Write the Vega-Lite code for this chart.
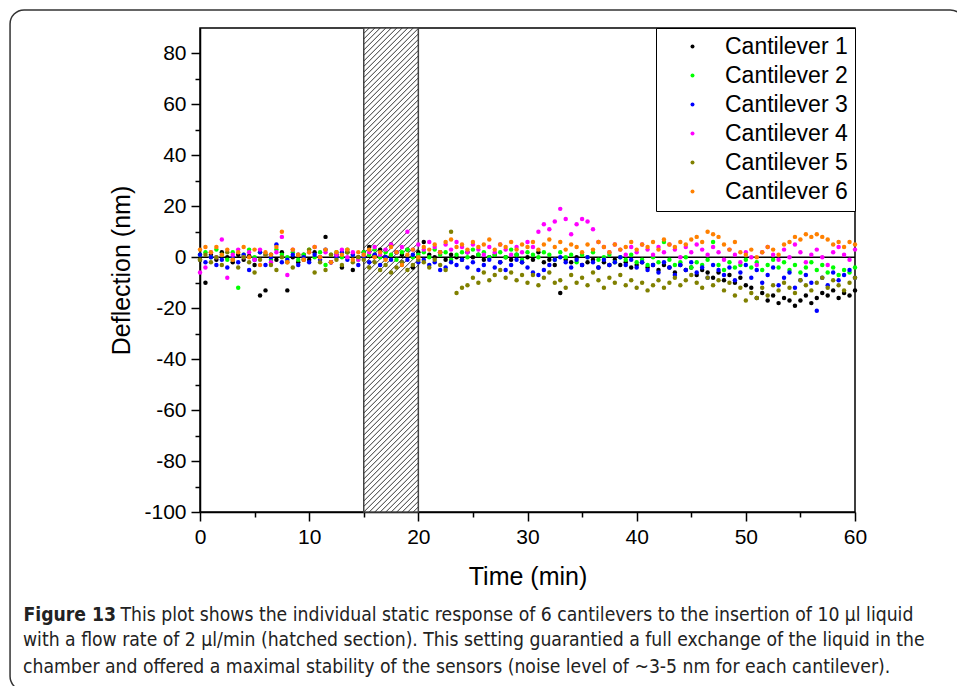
{
"$schema": "https://vega.github.io/schema/vega-lite/v6.json",
"width": 655, "height": 484,
"autosize": {"type": "none"},
"padding": {"left": 200, "top": 28, "right": 102, "bottom": 174},
"background": "white",
"config": {
  "view": {"stroke": "black", "strokeWidth": 1.5},
  "axis": {"labelFont": "Liberation Sans", "labelFontSize": 21, "labelColor": "black", "titleFont": "Liberation Sans", "titleFontSize": 25, "titleFontWeight": "normal", "titleColor": "black", "domainColor": "black", "domainWidth": 1.5, "tickColor": "black", "tickWidth": 1.5, "tickSize": 9, "labelPadding": 5, "grid": false, "labelFlush": false},
  "legend": {"orient": "top-right", "offset": 0, "padding": 7, "strokeColor": "black", "fillColor": "white", "labelFont": "Liberation Sans", "labelFontSize": 23, "labelColor": "black", "symbolSize": 16, "symbolOffset": 18, "labelOffset": 21, "rowPadding": 5, "symbolType": "circle", "symbolStrokeWidth": 0}
},
"title": {"text": ["with a flow rate of 2 µl/min (hatched section). This setting guarantied a full exchange of the liquid in the", "chamber and offered a maximal stability of the sensors (noise level of ~3-5 nm for each cantilever)."], "orient": "bottom", "anchor": "start", "frame": "group", "dx": -177, "offset": -60, "font": "DejaVu Sans Condensed, DejaVu Sans", "fontSize": 19.2, "fontWeight": "normal", "color": "#222", "lineHeight": 27},
"resolve": {"axis": {"x": "independent", "y": "independent"}},
"layer": [
{"data": {"values": [{}]},
 "mark": {"type": "rect", "filled": false, "stroke": "#333", "strokeWidth": 1.5, "cornerRadius": 14, "clip": false},
 "encoding": {"x": {"datum": -17.4, "type": "quantitative", "scale": {"domain": [0, 60], "nice": false, "zero": false}, "axis": null}, "x2": {"datum": 70}, "y": {"datum": 97.07, "type": "quantitative", "scale": {"domain": [-100, 90], "nice": false, "zero": false}, "axis": null}, "y2": {"datum": -170}}},
{"data": {"values": [{}]},
 "mark": {"type": "rect", "fill": "white", "stroke": "#444", "strokeWidth": 1.5},
 "encoding": {"x": {"datum": 15, "type": "quantitative", "scale": {"domain": [0, 60], "nice": false, "zero": false}, "axis": null}, "x2": {"datum": 20}, "y": {"datum": 90, "type": "quantitative", "scale": {"domain": [-100, 90], "nice": false, "zero": false}, "axis": null}, "y2": {"datum": -100}}},
{"data": {"values": [{}]},
 "mark": {"type": "point", "shape": "M0,5.5l5.5,-5.5M0,11l11,-11M0,16.5l16.5,-16.5M0,22l22,-22M0,27.5l27.5,-27.5M0,33l33,-33M0,38.5l38.5,-38.5M0,44l44,-44M0,49.5l49.5,-49.5M0,55l54.6,-54.6M0,60.5l54.6,-54.6M0,66l54.6,-54.6M0,71.5l54.6,-54.6M0,77l54.6,-54.6M0,82.5l54.6,-54.6M0,88l54.6,-54.6M0,93.5l54.6,-54.6M0,99l54.6,-54.6M0,104.5l54.6,-54.6M0,110l54.6,-54.6M0,115.5l54.6,-54.6M0,121l54.6,-54.6M0,126.5l54.6,-54.6M0,132l54.6,-54.6M0,137.5l54.6,-54.6M0,143l54.6,-54.6M0,148.5l54.6,-54.6M0,154l54.6,-54.6M0,159.5l54.6,-54.6M0,165l54.6,-54.6M0,170.5l54.6,-54.6M0,176l54.6,-54.6M0,181.5l54.6,-54.6M0,187l54.6,-54.6M0,192.5l54.6,-54.6M0,198l54.6,-54.6M0,203.5l54.6,-54.6M0,209l54.6,-54.6M0,214.5l54.6,-54.6M0,220l54.6,-54.6M0,225.5l54.6,-54.6M0,231l54.6,-54.6M0,236.5l54.6,-54.6M0,242l54.6,-54.6M0,247.5l54.6,-54.6M0,253l54.6,-54.6M0,258.5l54.6,-54.6M0,264l54.6,-54.6M0,269.5l54.6,-54.6M0,275l54.6,-54.6M0,280.5l54.6,-54.6M0,286l54.6,-54.6M0,291.5l54.6,-54.6M0,297l54.6,-54.6M0,302.5l54.6,-54.6M0,308l54.6,-54.6M0,313.5l54.6,-54.6M0,319l54.6,-54.6M0,324.5l54.6,-54.6M0,330l54.6,-54.6M0,335.5l54.6,-54.6M0,341l54.6,-54.6M0,346.5l54.6,-54.6M0,352l54.6,-54.6M0,357.5l54.6,-54.6M0,363l54.6,-54.6M0,368.5l54.6,-54.6M0,374l54.6,-54.6M0,379.5l54.6,-54.6M0,385l54.6,-54.6M0,390.5l54.6,-54.6M0,396l54.6,-54.6M0,401.5l54.6,-54.6M0,407l54.6,-54.6M0,412.5l54.6,-54.6M0,418l54.6,-54.6M0,423.5l54.6,-54.6M0,429l54.6,-54.6M0,434.5l54.6,-54.6M0,440l54.6,-54.6M0,445.5l54.6,-54.6M0,451l54.6,-54.6M0,456.5l54.6,-54.6M0,462l54.6,-54.6M0,467.5l54.6,-54.6M0,473l54.6,-54.6M0,478.5l54.6,-54.6M0,484l54.6,-54.6M5.5,484l49.1,-49.1M11,484l43.6,-43.6M16.5,484l38.1,-38.1M22,484l32.6,-32.6M27.5,484l27.1,-27.1M33,484l21.6,-21.6M38.5,484l16.1,-16.1M44,484l10.6,-10.6M49.5,484l5.1,-5.1", "size": 4, "filled": false, "color": "#333", "strokeWidth": 1, "opacity": 1},
 "encoding": {"x": {"datum": 15, "type": "quantitative", "scale": {"domain": [0, 60], "nice": false, "zero": false}, "axis": null}, "y": {"datum": 90, "type": "quantitative", "scale": {"domain": [-100, 90], "nice": false, "zero": false}, "axis": null}}},
{"data": {"values": [{}]},
 "mark": {"type": "rule", "color": "black", "strokeWidth": 1.5},
 "encoding": {"x": {"datum": 0, "type": "quantitative", "scale": {"domain": [0, 60], "nice": false, "zero": false}, "axis": {"orient": "bottom", "values": [5, 15, 25, 35, 45, 55], "labels": false, "domain": false, "tickSize": 5, "title": "This plot shows the individual static response of 6 cantilevers to the insertion of 10 µl liquid", "titleX": -80, "titleY": 108, "titleAlign": "left", "titleAnchor": "start", "titleBaseline": "alphabetic", "titleFont": "DejaVu Sans Condensed, DejaVu Sans", "titleFontSize": 19.2, "titleFontWeight": "normal", "titleColor": "#222"}}, "x2": {"datum": 60}, "y": {"datum": 0, "type": "quantitative", "scale": {"domain": [-100, 90], "nice": false, "zero": false}, "axis": {"orient": "left", "values": [-90, -70, -50, -30, -10, 10, 30, 50, 70], "labels": false, "domain": false, "tickSize": 5, "title": "Figure 13", "titleAngle": 0, "titleX": -177, "titleY": 592, "titleAlign": "left", "titleAnchor": "start", "titleBaseline": "alphabetic", "titleFont": "DejaVu Sans Condensed, DejaVu Sans", "titleFontSize": 19.2, "titleFontWeight": "bold", "titleColor": "#222"}}}},
{"data": {"values": [
{"t":0,"c":1,"d":-1},{"t":0.5,"c":1,"d":-10},{"t":1,"c":1,"d":1},{"t":1.5,"c":1,"d":-1},{"t":2,"c":1,"d":2},{"t":2.5,"c":1,"d":0},{"t":3,"c":1,"d":-2},{"t":3.5,"c":1,"d":1},{"t":4,"c":1,"d":-1},{"t":4.5,"c":1,"d":0.5},{"t":5,"c":1,"d":-3},{"t":5.5,"c":1,"d":-15},{"t":6,"c":1,"d":-13},{"t":6.5,"c":1,"d":1},{"t":7,"c":1,"d":-1},{"t":7.5,"c":1,"d":2},{"t":8,"c":1,"d":-13},{"t":8.5,"c":1,"d":0},{"t":9,"c":1,"d":-2},{"t":9.5,"c":1,"d":1},{"t":10,"c":1,"d":-1},{"t":10.5,"c":1,"d":2},{"t":11,"c":1,"d":0},{"t":11.5,"c":1,"d":8},{"t":12,"c":1,"d":-2},{"t":12.5,"c":1,"d":1},{"t":13,"c":1,"d":-4},{"t":13.5,"c":1,"d":2},{"t":14,"c":1,"d":-5},{"t":14.5,"c":1,"d":0},{"t":15,"c":1,"d":2},{"t":15.5,"c":1,"d":4},{"t":16,"c":1,"d":1},{"t":16.5,"c":1,"d":3},{"t":17,"c":1,"d":0},{"t":17.5,"c":1,"d":5},{"t":18,"c":1,"d":2},{"t":18.5,"c":1,"d":1},{"t":19,"c":1,"d":3},{"t":19.5,"c":1,"d":-4},{"t":20,"c":1,"d":2},{"t":20.5,"c":1,"d":6},{"t":21,"c":1,"d":1},{"t":21.5,"c":1,"d":0},{"t":22,"c":1,"d":2},{"t":22.5,"c":1,"d":-1},{"t":23,"c":1,"d":1},{"t":23.5,"c":1,"d":0},{"t":24,"c":1,"d":-1},{"t":24.5,"c":1,"d":2},{"t":25,"c":1,"d":0},{"t":25.5,"c":1,"d":1},{"t":26,"c":1,"d":-1},{"t":26.5,"c":1,"d":0},{"t":27,"c":1,"d":1},{"t":27.5,"c":1,"d":-2},{"t":28,"c":1,"d":0},{"t":28.5,"c":1,"d":-1},{"t":29,"c":1,"d":1},{"t":29.5,"c":1,"d":-2},{"t":30,"c":1,"d":0},{"t":30.5,"c":1,"d":-1},{"t":31,"c":1,"d":2},{"t":31.5,"c":1,"d":-2},{"t":32,"c":1,"d":-1},{"t":32.5,"c":1,"d":-3},{"t":33,"c":1,"d":-14},{"t":33.5,"c":1,"d":-1},{"t":34,"c":1,"d":-2},{"t":34.5,"c":1,"d":0},{"t":35,"c":1,"d":-3},{"t":35.5,"c":1,"d":-2},{"t":36,"c":1,"d":-1},{"t":36.5,"c":1,"d":-4},{"t":37,"c":1,"d":-2},{"t":37.5,"c":1,"d":-3},{"t":38,"c":1,"d":-1},{"t":38.5,"c":1,"d":-3},{"t":39,"c":1,"d":-2},{"t":39.5,"c":1,"d":-4},{"t":40,"c":1,"d":-3},{"t":40.5,"c":1,"d":-2},{"t":41,"c":1,"d":-4},{"t":41.5,"c":1,"d":-3},{"t":42,"c":1,"d":-5},{"t":42.5,"c":1,"d":-3},{"t":43,"c":1,"d":-4},{"t":43.5,"c":1,"d":-6},{"t":44,"c":1,"d":-3},{"t":44.5,"c":1,"d":-5},{"t":45,"c":1,"d":-4},{"t":45.5,"c":1,"d":-7},{"t":46,"c":1,"d":-5},{"t":46.5,"c":1,"d":-6},{"t":47,"c":1,"d":-8},{"t":47.5,"c":1,"d":-6},{"t":48,"c":1,"d":-9},{"t":48.5,"c":1,"d":-7},{"t":49,"c":1,"d":-10},{"t":49.5,"c":1,"d":-8},{"t":50,"c":1,"d":-11},{"t":50.5,"c":1,"d":-12},{"t":51,"c":1,"d":-16},{"t":51.5,"c":1,"d":-14},{"t":52,"c":1,"d":-17},{"t":52.5,"c":1,"d":-15},{"t":53,"c":1,"d":-18},{"t":53.5,"c":1,"d":-16},{"t":54,"c":1,"d":-17},{"t":54.5,"c":1,"d":-19},{"t":55,"c":1,"d":-17},{"t":55.5,"c":1,"d":-15},{"t":56,"c":1,"d":-18},{"t":56.5,"c":1,"d":-16},{"t":57,"c":1,"d":-14},{"t":57.5,"c":1,"d":-15},{"t":58,"c":1,"d":-13},{"t":58.5,"c":1,"d":-16},{"t":59,"c":1,"d":-14},{"t":59.5,"c":1,"d":-15},{"t":60,"c":1,"d":-13},
{"t":0,"c":2,"d":1},{"t":0.5,"c":2,"d":2},{"t":1,"c":2,"d":0},{"t":1.5,"c":2,"d":3},{"t":2,"c":2,"d":1},{"t":2.5,"c":2,"d":-1},{"t":3,"c":2,"d":2},{"t":3.5,"c":2,"d":-12},{"t":4,"c":2,"d":1},{"t":4.5,"c":2,"d":3},{"t":5,"c":2,"d":0},{"t":5.5,"c":2,"d":2},{"t":6,"c":2,"d":1},{"t":6.5,"c":2,"d":-1},{"t":7,"c":2,"d":3},{"t":7.5,"c":2,"d":1},{"t":8,"c":2,"d":0},{"t":8.5,"c":2,"d":2},{"t":9,"c":2,"d":-1},{"t":9.5,"c":2,"d":1},{"t":10,"c":2,"d":3},{"t":10.5,"c":2,"d":0},{"t":11,"c":2,"d":2},{"t":11.5,"c":2,"d":-3},{"t":12,"c":2,"d":1},{"t":12.5,"c":2,"d":2},{"t":13,"c":2,"d":0},{"t":13.5,"c":2,"d":3},{"t":14,"c":2,"d":1},{"t":14.5,"c":2,"d":-1},{"t":15,"c":2,"d":2},{"t":15.5,"c":2,"d":1},{"t":16,"c":2,"d":3},{"t":16.5,"c":2,"d":0},{"t":17,"c":2,"d":2},{"t":17.5,"c":2,"d":1},{"t":18,"c":2,"d":-1},{"t":18.5,"c":2,"d":2},{"t":19,"c":2,"d":3},{"t":19.5,"c":2,"d":0},{"t":20,"c":2,"d":1},{"t":20.5,"c":2,"d":2},{"t":21,"c":2,"d":0},{"t":21.5,"c":2,"d":3},{"t":22,"c":2,"d":1},{"t":22.5,"c":2,"d":2},{"t":23,"c":2,"d":-1},{"t":23.5,"c":2,"d":1},{"t":24,"c":2,"d":2},{"t":24.5,"c":2,"d":0},{"t":25,"c":2,"d":3},{"t":25.5,"c":2,"d":1},{"t":26,"c":2,"d":2},{"t":26.5,"c":2,"d":0},{"t":27,"c":2,"d":1},{"t":27.5,"c":2,"d":2},{"t":28,"c":2,"d":0},{"t":28.5,"c":2,"d":3},{"t":29,"c":2,"d":1},{"t":29.5,"c":2,"d":-1},{"t":30,"c":2,"d":2},{"t":30.5,"c":2,"d":1},{"t":31,"c":2,"d":0},{"t":31.5,"c":2,"d":2},{"t":32,"c":2,"d":1},{"t":32.5,"c":2,"d":-1},{"t":33,"c":2,"d":2},{"t":33.5,"c":2,"d":0},{"t":34,"c":2,"d":1},{"t":34.5,"c":2,"d":-2},{"t":35,"c":2,"d":1},{"t":35.5,"c":2,"d":0},{"t":36,"c":2,"d":2},{"t":36.5,"c":2,"d":-1},{"t":37,"c":2,"d":0},{"t":37.5,"c":2,"d":1},{"t":38,"c":2,"d":-2},{"t":38.5,"c":2,"d":0},{"t":39,"c":2,"d":-1},{"t":39.5,"c":2,"d":1},{"t":40,"c":2,"d":-2},{"t":40.5,"c":2,"d":-1},{"t":41,"c":2,"d":-3},{"t":41.5,"c":2,"d":0},{"t":42,"c":2,"d":-2},{"t":42.5,"c":2,"d":6},{"t":43,"c":2,"d":-1},{"t":43.5,"c":2,"d":-3},{"t":44,"c":2,"d":-2},{"t":44.5,"c":2,"d":0},{"t":45,"c":2,"d":-4},{"t":45.5,"c":2,"d":-2},{"t":46,"c":2,"d":-3},{"t":46.5,"c":2,"d":-1},{"t":47,"c":2,"d":6},{"t":47.5,"c":2,"d":-3},{"t":48,"c":2,"d":-5},{"t":48.5,"c":2,"d":-2},{"t":49,"c":2,"d":-4},{"t":49.5,"c":2,"d":-3},{"t":50,"c":2,"d":-1},{"t":50.5,"c":2,"d":-4},{"t":51,"c":2,"d":-2},{"t":51.5,"c":2,"d":-5},{"t":52,"c":2,"d":-3},{"t":52.5,"c":2,"d":-1},{"t":53,"c":2,"d":-4},{"t":53.5,"c":2,"d":-2},{"t":54,"c":2,"d":-5},{"t":54.5,"c":2,"d":-3},{"t":55,"c":2,"d":-6},{"t":55.5,"c":2,"d":-4},{"t":56,"c":2,"d":-2},{"t":56.5,"c":2,"d":-5},{"t":57,"c":2,"d":-3},{"t":57.5,"c":2,"d":-6},{"t":58,"c":2,"d":-4},{"t":58.5,"c":2,"d":-7},{"t":59,"c":2,"d":-5},{"t":59.5,"c":2,"d":-6},{"t":60,"c":2,"d":-4},
{"t":0,"c":3,"d":1},{"t":0.5,"c":3,"d":-2},{"t":1,"c":3,"d":0},{"t":1.5,"c":3,"d":-3},{"t":2,"c":3,"d":-1},{"t":2.5,"c":3,"d":-4},{"t":3,"c":3,"d":0},{"t":3.5,"c":3,"d":-2},{"t":4,"c":3,"d":1},{"t":4.5,"c":3,"d":-5},{"t":5,"c":3,"d":-1},{"t":5.5,"c":3,"d":2},{"t":6,"c":3,"d":-3},{"t":6.5,"c":3,"d":0},{"t":7,"c":3,"d":5},{"t":7.5,"c":3,"d":-2},{"t":8,"c":3,"d":-1},{"t":8.5,"c":3,"d":1},{"t":9,"c":3,"d":-3},{"t":9.5,"c":3,"d":0},{"t":10,"c":3,"d":-2},{"t":10.5,"c":3,"d":1},{"t":11,"c":3,"d":-1},{"t":11.5,"c":3,"d":3},{"t":12,"c":3,"d":-2},{"t":12.5,"c":3,"d":0},{"t":13,"c":3,"d":2},{"t":13.5,"c":3,"d":-1},{"t":14,"c":3,"d":1},{"t":14.5,"c":3,"d":-3},{"t":15,"c":3,"d":0},{"t":15.5,"c":3,"d":-2},{"t":16,"c":3,"d":1},{"t":16.5,"c":3,"d":-3},{"t":17,"c":3,"d":0},{"t":17.5,"c":3,"d":-1},{"t":18,"c":3,"d":2},{"t":18.5,"c":3,"d":-2},{"t":19,"c":3,"d":-1},{"t":19.5,"c":3,"d":1},{"t":20,"c":3,"d":-2},{"t":20.5,"c":3,"d":-1},{"t":21,"c":3,"d":-3},{"t":21.5,"c":3,"d":-2},{"t":22,"c":3,"d":-5},{"t":22.5,"c":3,"d":-4},{"t":23,"c":3,"d":-2},{"t":23.5,"c":3,"d":-3},{"t":24,"c":3,"d":-1},{"t":24.5,"c":3,"d":-4},{"t":25,"c":3,"d":-2},{"t":25.5,"c":3,"d":-5},{"t":26,"c":3,"d":-3},{"t":26.5,"c":3,"d":-1},{"t":27,"c":3,"d":-4},{"t":27.5,"c":3,"d":-2},{"t":28,"c":3,"d":-5},{"t":28.5,"c":3,"d":-3},{"t":29,"c":3,"d":-1},{"t":29.5,"c":3,"d":-2},{"t":30,"c":3,"d":-4},{"t":30.5,"c":3,"d":-6},{"t":31,"c":3,"d":-7},{"t":31.5,"c":3,"d":-5},{"t":32,"c":3,"d":-3},{"t":32.5,"c":3,"d":-1},{"t":33,"c":3,"d":0},{"t":33.5,"c":3,"d":-2},{"t":34,"c":3,"d":-4},{"t":34.5,"c":3,"d":-1},{"t":35,"c":3,"d":-3},{"t":35.5,"c":3,"d":0},{"t":36,"c":3,"d":-2},{"t":36.5,"c":3,"d":-4},{"t":37,"c":3,"d":-1},{"t":37.5,"c":3,"d":-3},{"t":38,"c":3,"d":-2},{"t":38.5,"c":3,"d":0},{"t":39,"c":3,"d":-3},{"t":39.5,"c":3,"d":-1},{"t":40,"c":3,"d":-4},{"t":40.5,"c":3,"d":-2},{"t":41,"c":3,"d":-5},{"t":41.5,"c":3,"d":-3},{"t":42,"c":3,"d":-6},{"t":42.5,"c":3,"d":-2},{"t":43,"c":3,"d":-4},{"t":43.5,"c":3,"d":-7},{"t":44,"c":3,"d":-3},{"t":44.5,"c":3,"d":-5},{"t":45,"c":3,"d":-2},{"t":45.5,"c":3,"d":-6},{"t":46,"c":3,"d":-4},{"t":46.5,"c":3,"d":-8},{"t":47,"c":3,"d":-3},{"t":47.5,"c":3,"d":-5},{"t":48,"c":3,"d":-7},{"t":48.5,"c":3,"d":-4},{"t":49,"c":3,"d":-9},{"t":49.5,"c":3,"d":-6},{"t":50,"c":3,"d":-3},{"t":50.5,"c":3,"d":-8},{"t":51,"c":3,"d":-5},{"t":51.5,"c":3,"d":-10},{"t":52,"c":3,"d":-7},{"t":52.5,"c":3,"d":-4},{"t":53,"c":3,"d":-11},{"t":53.5,"c":3,"d":-8},{"t":54,"c":3,"d":-6},{"t":54.5,"c":3,"d":-12},{"t":55,"c":3,"d":-9},{"t":55.5,"c":3,"d":-7},{"t":56,"c":3,"d":-10},{"t":56.5,"c":3,"d":-21},{"t":57,"c":3,"d":-8},{"t":57.5,"c":3,"d":-11},{"t":58,"c":3,"d":-6},{"t":58.5,"c":3,"d":-9},{"t":59,"c":3,"d":-7},{"t":59.5,"c":3,"d":-5},{"t":60,"c":3,"d":-8},
{"t":0,"c":4,"d":-6},{"t":0.5,"c":4,"d":-4},{"t":1,"c":4,"d":2},{"t":1.5,"c":4,"d":0},{"t":2,"c":4,"d":7},{"t":2.5,"c":4,"d":-8},{"t":3,"c":4,"d":1},{"t":3.5,"c":4,"d":3},{"t":4,"c":4,"d":0},{"t":4.5,"c":4,"d":2},{"t":5,"c":4,"d":-1},{"t":5.5,"c":4,"d":3},{"t":6,"c":4,"d":1},{"t":6.5,"c":4,"d":-2},{"t":7,"c":4,"d":2},{"t":7.5,"c":4,"d":8},{"t":8,"c":4,"d":-7},{"t":8.5,"c":4,"d":3},{"t":9,"c":4,"d":1},{"t":9.5,"c":4,"d":-1},{"t":10,"c":4,"d":2},{"t":10.5,"c":4,"d":4},{"t":11,"c":4,"d":0},{"t":11.5,"c":4,"d":2},{"t":12,"c":4,"d":-2},{"t":12.5,"c":4,"d":1},{"t":13,"c":4,"d":3},{"t":13.5,"c":4,"d":0},{"t":14,"c":4,"d":2},{"t":14.5,"c":4,"d":-1},{"t":15,"c":4,"d":1},{"t":15.5,"c":4,"d":2},{"t":16,"c":4,"d":4},{"t":16.5,"c":4,"d":1},{"t":17,"c":4,"d":3},{"t":17.5,"c":4,"d":5},{"t":18,"c":4,"d":2},{"t":18.5,"c":4,"d":4},{"t":19,"c":4,"d":10},{"t":19.5,"c":4,"d":3},{"t":20,"c":4,"d":5},{"t":20.5,"c":4,"d":3},{"t":21,"c":4,"d":6},{"t":21.5,"c":4,"d":4},{"t":22,"c":4,"d":2},{"t":22.5,"c":4,"d":5},{"t":23,"c":4,"d":3},{"t":23.5,"c":4,"d":6},{"t":24,"c":4,"d":4},{"t":24.5,"c":4,"d":2},{"t":25,"c":4,"d":5},{"t":25.5,"c":4,"d":3},{"t":26,"c":4,"d":1},{"t":26.5,"c":4,"d":4},{"t":27,"c":4,"d":2},{"t":27.5,"c":4,"d":5},{"t":28,"c":4,"d":3},{"t":28.5,"c":4,"d":1},{"t":29,"c":4,"d":4},{"t":29.5,"c":4,"d":2},{"t":30,"c":4,"d":6},{"t":30.5,"c":4,"d":4},{"t":31,"c":4,"d":10},{"t":31.5,"c":4,"d":13},{"t":32,"c":4,"d":11},{"t":32.5,"c":4,"d":14},{"t":33,"c":4,"d":19},{"t":33.5,"c":4,"d":15},{"t":34,"c":4,"d":9},{"t":34.5,"c":4,"d":13},{"t":35,"c":4,"d":15},{"t":35.5,"c":4,"d":14},{"t":36,"c":4,"d":11},{"t":36.5,"c":4,"d":6},{"t":37,"c":4,"d":4},{"t":37.5,"c":4,"d":2},{"t":38,"c":4,"d":5},{"t":38.5,"c":4,"d":3},{"t":39,"c":4,"d":1},{"t":39.5,"c":4,"d":4},{"t":40,"c":4,"d":2},{"t":40.5,"c":4,"d":5},{"t":41,"c":4,"d":3},{"t":41.5,"c":4,"d":1},{"t":42,"c":4,"d":4},{"t":42.5,"c":4,"d":2},{"t":43,"c":4,"d":5},{"t":43.5,"c":4,"d":3},{"t":44,"c":4,"d":0},{"t":44.5,"c":4,"d":4},{"t":45,"c":4,"d":2},{"t":45.5,"c":4,"d":5},{"t":46,"c":4,"d":3},{"t":46.5,"c":4,"d":1},{"t":47,"c":4,"d":4},{"t":47.5,"c":4,"d":2},{"t":48,"c":4,"d":-1},{"t":48.5,"c":4,"d":3},{"t":49,"c":4,"d":1},{"t":49.5,"c":4,"d":-2},{"t":50,"c":4,"d":2},{"t":50.5,"c":4,"d":0},{"t":51,"c":4,"d":-3},{"t":51.5,"c":4,"d":2},{"t":52,"c":4,"d":4},{"t":52.5,"c":4,"d":1},{"t":53,"c":4,"d":-1},{"t":53.5,"c":4,"d":3},{"t":54,"c":4,"d":0},{"t":54.5,"c":4,"d":5},{"t":55,"c":4,"d":2},{"t":55.5,"c":4,"d":-2},{"t":56,"c":4,"d":1},{"t":56.5,"c":4,"d":3},{"t":57,"c":4,"d":0},{"t":57.5,"c":4,"d":-3},{"t":58,"c":4,"d":2},{"t":58.5,"c":4,"d":4},{"t":59,"c":4,"d":1},{"t":59.5,"c":4,"d":-1},{"t":60,"c":4,"d":3},
{"t":0,"c":5,"d":-1},{"t":0.5,"c":5,"d":1},{"t":1,"c":5,"d":-2},{"t":1.5,"c":5,"d":0},{"t":2,"c":5,"d":-3},{"t":2.5,"c":5,"d":2},{"t":3,"c":5,"d":-1},{"t":3.5,"c":5,"d":-4},{"t":4,"c":5,"d":0},{"t":4.5,"c":5,"d":-2},{"t":5,"c":5,"d":-6},{"t":5.5,"c":5,"d":-1},{"t":6,"c":5,"d":1},{"t":6.5,"c":5,"d":-3},{"t":7,"c":5,"d":-5},{"t":7.5,"c":5,"d":0},{"t":8,"c":5,"d":-2},{"t":8.5,"c":5,"d":-4},{"t":9,"c":5,"d":1},{"t":9.5,"c":5,"d":-1},{"t":10,"c":5,"d":3},{"t":10.5,"c":5,"d":-6},{"t":11,"c":5,"d":-2},{"t":11.5,"c":5,"d":-5},{"t":12,"c":5,"d":1},{"t":12.5,"c":5,"d":-1},{"t":13,"c":5,"d":-3},{"t":13.5,"c":5,"d":2},{"t":14,"c":5,"d":-2},{"t":14.5,"c":5,"d":0},{"t":15,"c":5,"d":-1},{"t":15.5,"c":5,"d":-4},{"t":16,"c":5,"d":-2},{"t":16.5,"c":5,"d":-5},{"t":17,"c":5,"d":-3},{"t":17.5,"c":5,"d":-6},{"t":18,"c":5,"d":-4},{"t":18.5,"c":5,"d":-2},{"t":19,"c":5,"d":-5},{"t":19.5,"c":5,"d":-3},{"t":20,"c":5,"d":-1},{"t":20.5,"c":5,"d":-2},{"t":21,"c":5,"d":-4},{"t":21.5,"c":5,"d":-1},{"t":22,"c":5,"d":-3},{"t":22.5,"c":5,"d":-5},{"t":23,"c":5,"d":10},{"t":23.5,"c":5,"d":-14},{"t":24,"c":5,"d":-12},{"t":24.5,"c":5,"d":-11},{"t":25,"c":5,"d":-8},{"t":25.5,"c":5,"d":-10},{"t":26,"c":5,"d":-6},{"t":26.5,"c":5,"d":-9},{"t":27,"c":5,"d":-7},{"t":27.5,"c":5,"d":-5},{"t":28,"c":5,"d":-8},{"t":28.5,"c":5,"d":-6},{"t":29,"c":5,"d":-9},{"t":29.5,"c":5,"d":-7},{"t":30,"c":5,"d":-10},{"t":30.5,"c":5,"d":-7},{"t":31,"c":5,"d":-11},{"t":31.5,"c":5,"d":-8},{"t":32,"c":5,"d":-6},{"t":32.5,"c":5,"d":-10},{"t":33,"c":5,"d":-9},{"t":33.5,"c":5,"d":-12},{"t":34,"c":5,"d":-7},{"t":34.5,"c":5,"d":-10},{"t":35,"c":5,"d":-8},{"t":35.5,"c":5,"d":-11},{"t":36,"c":5,"d":-6},{"t":36.5,"c":5,"d":-9},{"t":37,"c":5,"d":-12},{"t":37.5,"c":5,"d":-8},{"t":38,"c":5,"d":-10},{"t":38.5,"c":5,"d":-7},{"t":39,"c":5,"d":-11},{"t":39.5,"c":5,"d":-9},{"t":40,"c":5,"d":-12},{"t":40.5,"c":5,"d":-10},{"t":41,"c":5,"d":-13},{"t":41.5,"c":5,"d":-11},{"t":42,"c":5,"d":-9},{"t":42.5,"c":5,"d":-12},{"t":43,"c":5,"d":-10},{"t":43.5,"c":5,"d":-8},{"t":44,"c":5,"d":-11},{"t":44.5,"c":5,"d":-9},{"t":45,"c":5,"d":-7},{"t":45.5,"c":5,"d":-10},{"t":46,"c":5,"d":-12},{"t":46.5,"c":5,"d":-8},{"t":47,"c":5,"d":-11},{"t":47.5,"c":5,"d":-9},{"t":48,"c":5,"d":-13},{"t":48.5,"c":5,"d":-10},{"t":49,"c":5,"d":-15},{"t":49.5,"c":5,"d":-12},{"t":50,"c":5,"d":-17},{"t":50.5,"c":5,"d":-14},{"t":51,"c":5,"d":-16},{"t":51.5,"c":5,"d":-12},{"t":52,"c":5,"d":-15},{"t":52.5,"c":5,"d":-11},{"t":53,"c":5,"d":-13},{"t":53.5,"c":5,"d":-10},{"t":54,"c":5,"d":-12},{"t":54.5,"c":5,"d":-14},{"t":55,"c":5,"d":-9},{"t":55.5,"c":5,"d":-11},{"t":56,"c":5,"d":-13},{"t":56.5,"c":5,"d":-10},{"t":57,"c":5,"d":-8},{"t":57.5,"c":5,"d":-12},{"t":58,"c":5,"d":-9},{"t":58.5,"c":5,"d":-11},{"t":59,"c":5,"d":-13},{"t":59.5,"c":5,"d":-10},{"t":60,"c":5,"d":-8},
{"t":0,"c":6,"d":3},{"t":0.5,"c":6,"d":4},{"t":1,"c":6,"d":2},{"t":1.5,"c":6,"d":4},{"t":2,"c":6,"d":1},{"t":2.5,"c":6,"d":3},{"t":3,"c":6,"d":-1},{"t":3.5,"c":6,"d":2},{"t":4,"c":6,"d":4},{"t":4.5,"c":6,"d":0},{"t":5,"c":6,"d":3},{"t":5.5,"c":6,"d":-3},{"t":6,"c":6,"d":2},{"t":6.5,"c":6,"d":1},{"t":7,"c":6,"d":4},{"t":7.5,"c":6,"d":10},{"t":8,"c":6,"d":-2},{"t":8.5,"c":6,"d":3},{"t":9,"c":6,"d":1},{"t":9.5,"c":6,"d":-1},{"t":10,"c":6,"d":2},{"t":10.5,"c":6,"d":4},{"t":11,"c":6,"d":0},{"t":11.5,"c":6,"d":3},{"t":12,"c":6,"d":-2},{"t":12.5,"c":6,"d":2},{"t":13,"c":6,"d":1},{"t":13.5,"c":6,"d":3},{"t":14,"c":6,"d":-1},{"t":14.5,"c":6,"d":2},{"t":15,"c":6,"d":1},{"t":15.5,"c":6,"d":3},{"t":16,"c":6,"d":0},{"t":16.5,"c":6,"d":2},{"t":17,"c":6,"d":-1},{"t":17.5,"c":6,"d":4},{"t":18,"c":6,"d":2},{"t":18.5,"c":6,"d":-3},{"t":19,"c":6,"d":1},{"t":19.5,"c":6,"d":3},{"t":20,"c":6,"d":0},{"t":20.5,"c":6,"d":4},{"t":21,"c":6,"d":3},{"t":21.5,"c":6,"d":5},{"t":22,"c":6,"d":2},{"t":22.5,"c":6,"d":6},{"t":23,"c":6,"d":7},{"t":23.5,"c":6,"d":4},{"t":24,"c":6,"d":5},{"t":24.5,"c":6,"d":3},{"t":25,"c":6,"d":6},{"t":25.5,"c":6,"d":4},{"t":26,"c":6,"d":5},{"t":26.5,"c":6,"d":7},{"t":27,"c":6,"d":3},{"t":27.5,"c":6,"d":5},{"t":28,"c":6,"d":4},{"t":28.5,"c":6,"d":6},{"t":29,"c":6,"d":3},{"t":29.5,"c":6,"d":5},{"t":30,"c":6,"d":4},{"t":30.5,"c":6,"d":6},{"t":31,"c":6,"d":3},{"t":31.5,"c":6,"d":5},{"t":32,"c":6,"d":7},{"t":32.5,"c":6,"d":4},{"t":33,"c":6,"d":6},{"t":33.5,"c":6,"d":3},{"t":34,"c":6,"d":5},{"t":34.5,"c":6,"d":4},{"t":35,"c":6,"d":2},{"t":35.5,"c":6,"d":5},{"t":36,"c":6,"d":3},{"t":36.5,"c":6,"d":6},{"t":37,"c":6,"d":4},{"t":37.5,"c":6,"d":2},{"t":38,"c":6,"d":5},{"t":38.5,"c":6,"d":3},{"t":39,"c":6,"d":4},{"t":39.5,"c":6,"d":6},{"t":40,"c":6,"d":3},{"t":40.5,"c":6,"d":5},{"t":41,"c":6,"d":4},{"t":41.5,"c":6,"d":6},{"t":42,"c":6,"d":3},{"t":42.5,"c":6,"d":7},{"t":43,"c":6,"d":5},{"t":43.5,"c":6,"d":4},{"t":44,"c":6,"d":6},{"t":44.5,"c":6,"d":5},{"t":45,"c":6,"d":7},{"t":45.5,"c":6,"d":8},{"t":46,"c":6,"d":6},{"t":46.5,"c":6,"d":10},{"t":47,"c":6,"d":9},{"t":47.5,"c":6,"d":8},{"t":48,"c":6,"d":5},{"t":48.5,"c":6,"d":3},{"t":49,"c":6,"d":6},{"t":49.5,"c":6,"d":2},{"t":50,"c":6,"d":1},{"t":50.5,"c":6,"d":3},{"t":51,"c":6,"d":0},{"t":51.5,"c":6,"d":2},{"t":52,"c":6,"d":4},{"t":52.5,"c":6,"d":3},{"t":53,"c":6,"d":1},{"t":53.5,"c":6,"d":5},{"t":54,"c":6,"d":6},{"t":54.5,"c":6,"d":8},{"t":55,"c":6,"d":7},{"t":55.5,"c":6,"d":9},{"t":56,"c":6,"d":8},{"t":56.5,"c":6,"d":9},{"t":57,"c":6,"d":8},{"t":57.5,"c":6,"d":7},{"t":58,"c":6,"d":5},{"t":58.5,"c":6,"d":6},{"t":59,"c":6,"d":4},{"t":59.5,"c":6,"d":6},{"t":60,"c":6,"d":5}
]},
 "mark": {"type": "point", "filled": true, "size": 20, "opacity": 1, "strokeWidth": 0},
 "encoding": {
  "x": {"field": "t", "type": "quantitative", "scale": {"domain": [0, 60], "nice": false, "zero": false}, "axis": {"orient": "bottom", "values": [0, 10, 20, 30, 40, 50, 60], "title": "Time (min)", "titlePadding": 17}},
  "y": {"field": "d", "type": "quantitative", "scale": {"domain": [-100, 90], "nice": false, "zero": false}, "axis": {"orient": "left", "values": [-100, -80, -60, -40, -20, 0, 20, 40, 60, 80], "title": "Deflection (nm)", "titlePadding": 9, "labelExpr": "'' + datum.value"}},
  "color": {"field": "c", "type": "nominal", "scale": {"domain": [1, 2, 3, 4, 5, 6], "range": ["#000000", "#00ff00", "#0000ff", "#ff00ff", "#808000", "#ff8000"]}, "legend": {"title": null, "labelExpr": "'Cantilever ' + datum.label"}}
 }}
]
}
